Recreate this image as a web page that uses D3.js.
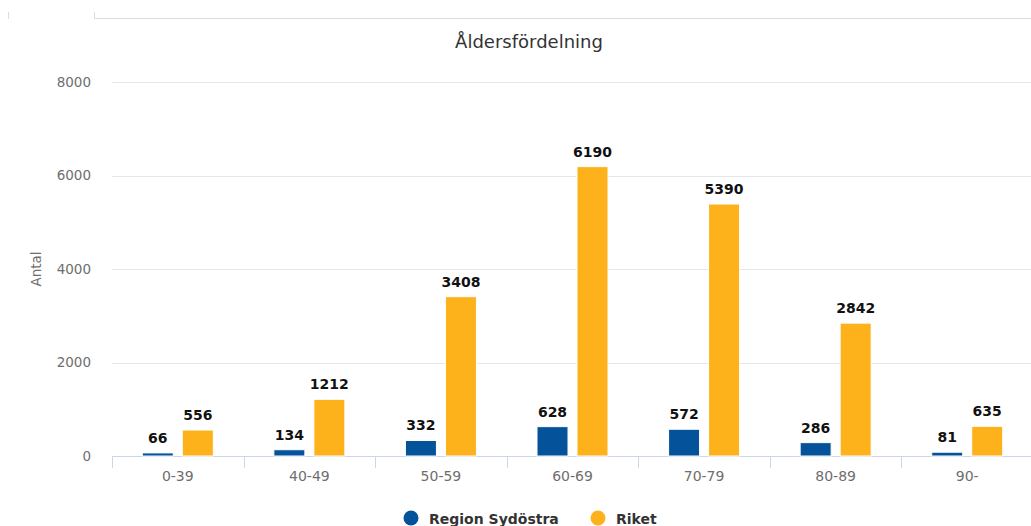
<!doctype html>
<html>
<head>
    <title>Åldersfördelning</title>
    <script src="https://d3js.org/d3.v7.min.js"></script>
    <style>
      body {
        padding: 0px;
        margin: 0px;
        background: #fff;
      }
      svg text {
        font-family: "DejaVu Sans", sans-serif;
      }
      .grid line {
        stroke: #e6e6e6;
        stroke-width: 1;
      }
      .bar {
        stroke: #fff;
        stroke-width: 1;
      }
    </style>
</head>
<body>
  <div id="container"></div>
  <script>

  var categories = ["0-39", "40-49", "50-59", "60-69", "70-79", "80-89", "90-"]
  var seriesNames = ["Region Sydöstra", "Riket"]
  var regionValues = [66, 134, 332, 628, 572, 286, 81]
  var riketValues = [556, 1212, 3408, 6190, 5390, 2842, 635]
  var yTicks = [0, 2000, 4000, 6000, 8000]
  var colors = ["#03529a", "#fdb11b"]

  var vizWidth = 1031,
      vizHeight = 526,
      margin = {top: 82, right: -2, bottom: 70, left: 112}

  var viz = d3.select("#container").append("svg")
              .attr("width", vizWidth)
              .attr("height", vizHeight)

  // top frame line and small marks
  viz.append("line")
     .attr("x1", 94).attr("x2", vizWidth).attr("y1", 18.5).attr("y2", 18.5)
     .attr("stroke", "#dcdcdc")
  viz.append("line")
     .attr("x1", 94.5).attr("x2", 94.5).attr("y1", 12).attr("y2", 18)
     .attr("stroke", "#dcdcdc")
  viz.append("line")
     .attr("x1", 8.5).attr("x2", 8.5).attr("y1", 12).attr("y2", 19)
     .attr("stroke", "#dcdcdc")

  var x0 = d3.scaleBand()
      .domain(categories)
      .range([margin.left, vizWidth - margin.right])
      .padding(0)

  var x1 = d3.scaleBand()
      .domain(seriesNames)
      .range([-35.5, 35.5])
      .paddingInner(9 / 40)

  var y = d3.scaleLinear()
      .domain([0, 8000])
      .range([vizHeight - margin.bottom, margin.top])

  // gridlines
  var grid = viz.append("g").attr("class", "grid")
  grid.selectAll("line").data(yTicks.filter(function(d) { return d > 0 }))
      .enter().append("line")
      .attr("x1", margin.left).attr("x2", vizWidth)
      .attr("y1", function(d) { return Math.round(y(d)) + 0.5 })
      .attr("y2", function(d) { return Math.round(y(d)) + 0.5 })

  // y axis labels
  var yAxis = d3.axisLeft(y).tickValues(yTicks).tickFormat(d3.format("d")).tickSize(0).tickPadding(21)
  viz.append("g")
     .attr("transform", "translate(" + margin.left + ",0)")
     .call(yAxis)
     .call(function(g) { g.select(".domain").remove() })
     .selectAll("text")
     .attr("fill", "#6e6e6e")
     .style("font-family", "DejaVu Sans")
     .style("font-size", "13.5px")

  viz.append("text")
     .attr("transform", "translate(41," + (y(4000)) + ") rotate(-90)")
     .attr("text-anchor", "middle")
     .attr("fill", "#6e6e6e")
     .style("font-size", "13.5px")
     .text("Antal")

  // x axis
  var xAxis = d3.axisBottom(x0).tickSize(0).tickPadding(15)
  var xg = viz.append("g")
     .attr("transform", "translate(0," + (y(0)) + ")")
     .call(xAxis)
  xg.select(".domain").attr("stroke", "#ccd6eb").attr("d", "M" + margin.left + ",0.5H" + vizWidth)
  xg.selectAll("text").attr("fill", "#6e6e6e")
     .style("font-family", "DejaVu Sans")
     .style("font-size", "14px")
  xg.selectAll(".sep").data(categories)
     .enter().append("line")
     .attr("class", "sep")
     .attr("x1", function(d) { return Math.round(x0(d)) + 0.5 })
     .attr("x2", function(d) { return Math.round(x0(d)) + 0.5 })
     .attr("y1", 0).attr("y2", 12)
     .attr("stroke", "#ccd6eb")

  // bars
  var data = categories.map(function(c, i) {
    return {cat: c, values: [
      {name: seriesNames[0], value: regionValues[i], color: colors[0]},
      {name: seriesNames[1], value: riketValues[i], color: colors[1]}
    ]}
  })

  var groups = viz.append("g").selectAll("g").data(data)
      .enter().append("g")
      .attr("transform", function(d) { return "translate(" + (x0(d.cat) + x0.bandwidth() / 2) + ",0)" })

  groups.selectAll("rect").data(function(d) { return d.values })
      .enter().append("rect")
      .attr("class", "bar")
      .attr("x", function(d) { return x1(d.name) })
      .attr("width", x1.bandwidth())
      .attr("y", function(d) { return y(d.value) })
      .attr("height", function(d) { return y(0) - y(d.value) })
      .attr("fill", function(d) { return d.color })

  groups.selectAll("text").data(function(d) { return d.values })
      .enter().append("text")
      .attr("x", function(d) { return x1(d.name) + x1.bandwidth() / 2 })
      .attr("y", function(d) { return y(d.value) - 10 })
      .attr("text-anchor", "middle")
      .attr("fill", "#111")
      .style("font-size", "14px")
      .style("font-weight", "bold")
      .text(function(d) { return d.value })

  // title
  viz.append("text")
     .attr("x", 529).attr("y", 48)
     .attr("text-anchor", "middle")
     .attr("fill", "#333")
     .style("font-size", "18px")
     .text("Åldersfördelning")

  // legend
  var legend = viz.append("g").attr("transform", "translate(0,518)")
  var legendX = [411, 598]
  seriesNames.forEach(function(name, i) {
    legend.append("circle")
      .attr("cx", legendX[i]).attr("cy", 0).attr("r", 7.5)
      .attr("fill", colors[i])
    legend.append("text")
      .attr("x", legendX[i] + 18).attr("y", 5.5)
      .attr("fill", "#333")
      .style("font-size", "14px")
      .style("font-weight", "bold")
      .text(name)
  })

  </script>
</body>
</html>
